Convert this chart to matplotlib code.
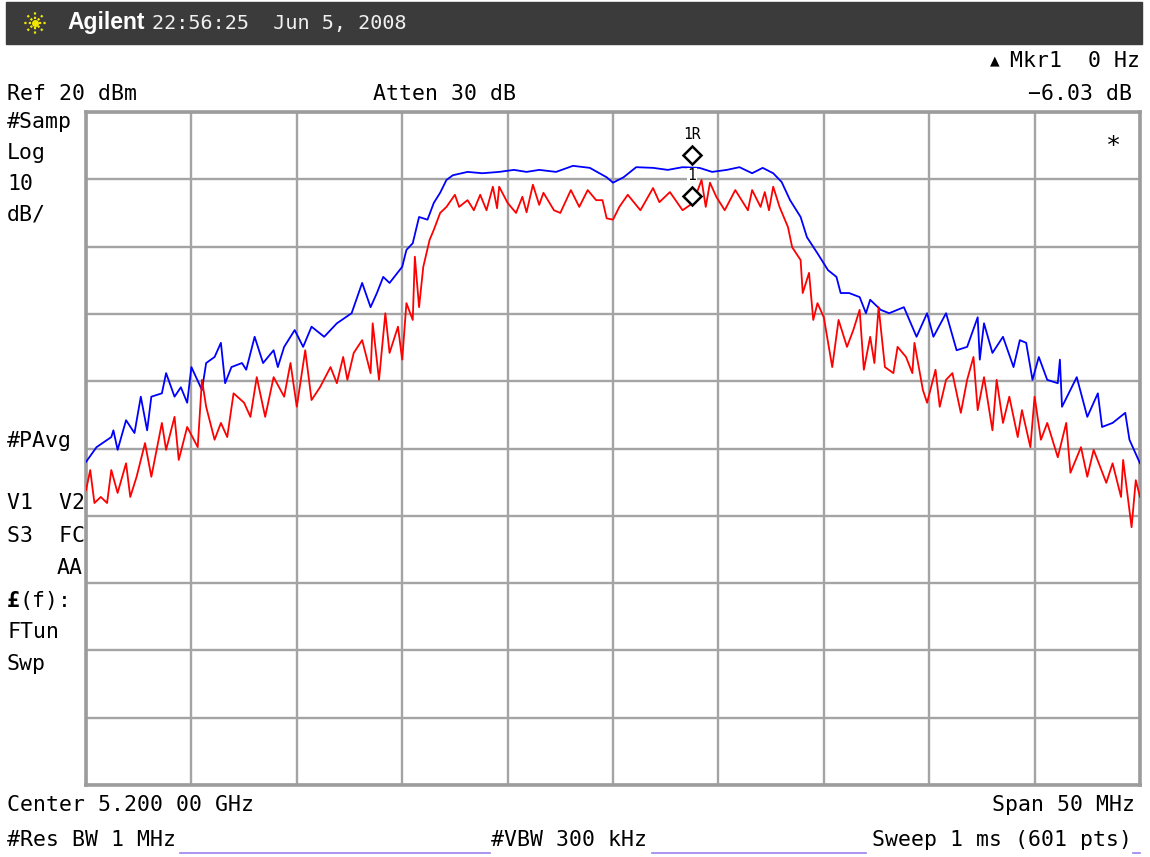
import numpy as np
import matplotlib
matplotlib.use("Agg")
import matplotlib.pyplot as plt
from matplotlib.lines import Line2D
from matplotlib.patches import Rectangle

# trace data: offset from 5.200 GHz centre (MHz) and level (dBm)
blue_f = [-25.0, -24.5, -23.8, -23.7, -23.5, -23.1, -22.7, -22.4, -22.1, -21.9,
          -21.4, -21.2, -20.8, -20.5, -20.2, -20.0, -19.5, -19.3, -18.9, -18.6,
          -18.4, -18.1, -17.6, -17.4, -17.0, -16.6, -16.1, -15.9, -15.6, -15.1,
          -14.7, -14.3, -13.7, -13.1, -12.4, -11.9, -11.5, -11.2, -10.9, -10.6,
          -10.0, -9.8, -9.5, -9.2, -8.8, -8.5, -8.2, -7.9, -7.6, -6.9,
          -6.2, -5.4, -4.7, -4.1, -3.5, -2.7, -1.9, -1.1, -0.3, 0.0,
          0.5, 1.1, 1.9, 2.6, 3.3, 4.1, 4.7, 5.4, 6.0, 6.6,
          7.1, 7.6, 8.0, 8.4, 8.9, 9.2, 9.7, 10.2, 10.6, 10.8,
          11.2, 11.7, 12.0, 12.2, 12.7, 13.1, 13.8, 14.4, 14.9, 15.2,
          15.8, 16.3, 16.8, 17.3, 17.4, 17.6, 18.0, 18.5, 19.0, 19.3,
          19.6, 19.9, 20.2, 20.6, 21.1, 21.2, 21.3, 22.0, 22.5, 23.0,
          23.2, 23.7, 24.3, 24.5, 25.0]
blue_db = [-32.0, -29.8, -28.3, -27.3, -30.2, -25.8, -27.7, -22.3, -27.3, -22.3,
           -21.8, -18.8, -22.3, -20.9, -23.2, -17.9, -21.3, -17.3, -16.4, -14.3,
           -20.3, -17.9, -17.3, -18.3, -13.4, -17.3, -15.4, -17.9, -14.9, -12.4,
           -14.9, -11.9, -13.4, -11.4, -9.9, -5.4, -9.0, -6.9, -4.5, -5.4,
           -3.0, -0.5, 0.5, 4.4, 4.0, 6.5, 8.0, 9.9, 10.6, 11.1,
           10.9, 11.1, 11.4, 11.1, 11.4, 11.1, 12.0, 11.7, 10.3, 9.5,
           10.3, 11.8, 11.7, 11.4, 11.8, 11.7, 11.1, 11.4, 11.8, 10.9,
           11.7, 10.9, 9.6, 6.9, 4.4, 1.4, -1.0, -3.5, -4.5, -6.9,
           -6.9, -7.5, -9.9, -7.9, -9.4, -9.9, -9.0, -13.4, -9.9, -13.4,
           -9.9, -15.4, -14.9, -10.5, -16.8, -11.4, -15.8, -13.4, -17.9, -13.9,
           -14.3, -19.8, -16.4, -19.8, -20.3, -16.8, -23.8, -19.4, -25.3, -21.8,
           -26.8, -26.2, -24.7, -28.7, -32.2]

red_f = [-25.0, -24.8, -24.6, -24.3, -24.0, -23.8, -23.5, -23.1, -22.9, -22.6,
         -22.2, -21.9, -21.4, -21.2, -20.8, -20.6, -20.2, -19.7, -19.5, -19.3,
         -18.9, -18.6, -18.3, -18.0, -17.5, -17.2, -16.9, -16.5, -16.1, -15.6,
         -15.3, -15.0, -14.6, -14.3, -13.9, -13.4, -13.1, -12.8, -12.6, -12.3,
         -11.9, -11.5, -11.4, -11.1, -10.8, -10.6, -10.2, -10.0, -9.8, -9.5,
         -9.4, -9.2, -9.0, -8.7, -8.5, -8.2, -7.9, -7.5, -7.3, -6.9,
         -6.6, -6.3, -6.0, -5.7, -5.5, -5.4, -5.0, -4.6, -4.3, -4.1,
         -3.8, -3.5, -3.3, -2.8, -2.5, -2.0, -1.6, -1.2, -0.8, -0.5,
         -0.3, 0.0, 0.3, 0.7, 1.3, 1.9, 2.2, 2.7, 3.3, 3.8,
         4.2, 4.4, 4.6, 4.9, 5.3, 5.8, 6.4, 6.6, 7.0, 7.2,
         7.4, 7.6, 7.9, 8.3, 8.5, 8.9, 9.0, 9.3, 9.5, 9.7,
         10.0, 10.4, 10.7, 11.1, 11.4, 11.7, 11.9, 12.2, 12.4, 12.6,
         12.9, 13.3, 13.5, 13.9, 14.2, 14.3, 14.7, 14.9, 15.3, 15.5,
         15.8, 16.1, 16.5, 16.8, 17.1, 17.3, 17.6, 18.0, 18.2, 18.5,
         18.8, 19.2, 19.4, 19.8, 20.0, 20.3, 20.6, 21.1, 21.5, 21.7,
         22.2, 22.5, 22.8, 23.4, 23.7, 24.1, 24.2, 24.6, 24.8, 25.0]
red_db = [-36.2, -33.2, -38.1, -37.2, -38.1, -33.2, -36.6, -32.2, -37.2, -34.2,
          -29.2, -34.2, -26.2, -30.2, -25.3, -31.7, -26.8, -29.8, -19.8, -23.8,
          -28.7, -26.2, -28.3, -21.8, -23.2, -25.3, -19.4, -25.3, -19.4, -22.3,
          -17.3, -23.8, -15.4, -22.8, -20.9, -17.9, -20.3, -16.4, -19.8, -15.8,
          -13.9, -18.8, -11.4, -19.8, -9.9, -15.8, -11.9, -16.8, -8.4, -10.9,
          -1.5, -9.0, -3.0, 1.0, 2.5, 5.0, 5.9, 7.7, 5.9, 6.9,
          5.4, 7.7, 5.4, 8.9, 5.7, 8.9, 6.5, 5.0, 7.4, 5.1,
          9.2, 6.2, 8.0, 5.4, 5.0, 8.4, 5.9, 8.4, 6.9, 6.9,
          4.2, 4.0, 5.9, 7.7, 5.4, 8.7, 6.6, 8.1, 5.4, 6.5,
          9.9, 5.9, 9.5, 7.4, 5.4, 8.4, 5.4, 8.4, 5.9, 8.1,
          5.4, 8.9, 5.9, 2.9, -0.1, -2.0, -6.9, -3.9, -10.9, -8.4,
          -10.5, -17.9, -10.9, -14.9, -12.4, -9.4, -18.3, -13.4, -17.3, -9.0,
          -17.9, -18.8, -14.9, -16.4, -18.8, -14.3, -21.3, -23.2, -18.3, -23.8,
          -19.8, -18.8, -24.7, -19.8, -16.4, -24.3, -19.4, -27.3, -19.8, -26.2,
          -22.3, -28.3, -24.3, -29.8, -22.3, -28.7, -26.2, -31.3, -26.2, -33.6,
          -29.8, -34.2, -30.2, -35.1, -32.2, -37.2, -31.7, -41.7, -34.7, -37.2]

ref_level = 20
db_per_div = 10
span_mhz = 50
mkr_freq = 3.75
mkr_levels = [13.6, 7.5]
mkr_labels = ["1R", "1"]

W, H = 1150, 857
FONT = "DejaVu Sans Mono"
FS = 15.5
GRID = "#a4a4a4"


def fx(px):
    return px / W


def fy(py):
    return 1 - py / H


fig = plt.figure(figsize=(W / 100, H / 100), dpi=100)
fig.patch.set_facecolor("white")

# title bar
fig.patches.append(Rectangle((fx(6), fy(44)), fx(1136), 42 / H,
                             transform=fig.transFigure, color="#3b3b3b", zorder=0))
for ang in np.arange(0, 360, 45):
    r = np.deg2rad(ang)
    fig.add_artist(Line2D([fx(35 + 4 * np.cos(r)), fx(35 + 12 * np.cos(r))],
                          [fy(23 - 4 * np.sin(r)), fy(23 - 12 * np.sin(r))],
                          color="#f2e600", lw=1.6, ls=(0, (1, 1))))
fig.add_artist(Line2D([fx(35)], [fy(23)], marker="o", ms=4, color="#f2e600"))
fig.text(fx(67), fy(23), "Agilent", family="Liberation Sans", weight="bold",
         fontsize=16.5, color="white", va="center")
fig.text(fx(152), fy(23), "22:56:25  Jun 5, 2008", family=FONT, fontsize=14.5,
         color="#f0f0f0", va="center")

ax = fig.add_axes([fx(86), 72 / H, 1054 / W, 673 / H])
ax.plot(blue_f, blue_db, color="#0000ff", lw=1.3, zorder=3)
ax.plot(red_f, red_db, color="#ff0000", lw=1.3, zorder=3)

ax.set_xlim(-span_mhz / 2, span_mhz / 2)
ax.set_ylim(ref_level - 10 * db_per_div, ref_level)
ax.set_xticks(np.linspace(-span_mhz / 2, span_mhz / 2, 11))
ax.set_yticks(np.arange(ref_level - 10 * db_per_div, ref_level + 1, db_per_div))
ax.grid(True, color=GRID, lw=1.7)
ax.tick_params(length=0, labelbottom=False, labelleft=False)
for sp in ax.spines.values():
    sp.set_color("#9c9c9c")
    sp.set_linewidth(2.6)

# markers
ax.plot([mkr_freq] * 2, mkr_levels, ls="none", marker="D", ms=9, mfc="white",
        mec="black", mew=1.8, zorder=5)
ax.text(mkr_freq, mkr_levels[0] + 3.0, mkr_labels[0], family=FONT, fontsize=10.5,
        ha="center", va="center", zorder=6)
ax.text(mkr_freq, mkr_levels[1] + 3.0, mkr_labels[1], family=FONT, fontsize=10.5,
        ha="center", va="center", zorder=6,
        bbox=dict(fc="white", ec="none", pad=0.5))
ax.text(0.975, 0.95, "*", transform=ax.transAxes, family=FONT, fontsize=18,
        ha="center", va="center")


def label(px, py, s, ha="left", **kw):
    fig.text(fx(px), fy(py), s, family=FONT, fontsize=FS, ha=ha, va="center", **kw)


label(1140, 61, "Mkr1  0 Hz", ha="right")
fig.text(fx(995), fy(61), "\u25B2", family="DejaVu Sans", fontsize=9,
         ha="center", va="center")
label(7, 94, "Ref 20 dBm")
label(373, 94, "Atten 30 dB")
label(1132, 94, "\u22126.03 dB", ha="right")

for py, s in [(122, "#Samp"), (153, "Log"), (184, "10"), (214, "dB/"),
              (441, "#PAvg"), (503, "V1  V2"), (536, "S3  FC"),
              (632, "FTun"), (664, "Swp")]:
    label(7, py, s)
label(83, 568, "AA", ha="right")
fig.text(fx(7), fy(601), "\u00a3", family=FONT, fontsize=FS, weight="bold", va="center")
label(20, 601, "(f):")

label(7, 805, "Center 5.200 00 GHz")
label(1135, 805, "Span 50 MHz", ha="right")
label(7, 840, "#Res BW 1 MHz")
label(491, 840, "#VBW 300 kHz")
label(1132, 840, "Sweep 1 ms (601 pts)", ha="right")
for x0, x1 in [(180, 490), (652, 866), (1133, 1140)]:
    fig.add_artist(Line2D([fx(x0), fx(x1)], [fy(853), fy(853)], color="#9b80ee", lw=1.2))

fig.savefig("out.png", dpi=100)
